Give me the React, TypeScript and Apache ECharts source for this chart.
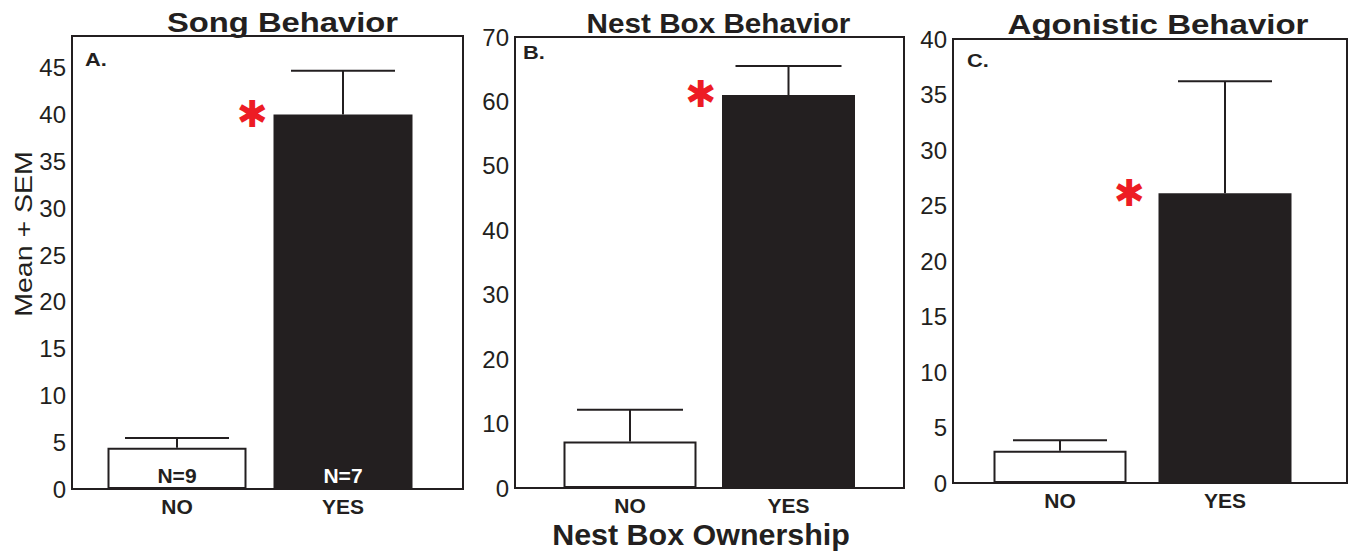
import React, { useEffect, useRef } from 'react';
import * as echarts from 'echarts';

// ---------- data ----------
const categories = ['NO', 'YES'];
const panelTitles = ['Song Behavior', 'Nest Box Behavior', 'Agonistic Behavior'];
const panelLetters = ['A.', 'B.', 'C.'];
const songMeans = [4.4, 40.0];
const songSem = [1.05, 4.7];
const nestBoxMeans = [7.2, 61.0];
const nestBoxSem = [4.95, 4.5];
const agonisticMeans = [2.9, 26.1];
const agonisticSem = [0.95, 10.1];
const significant = [false, true];
const sampleSizes = ['N=9', 'N=7'];
const yAxisMax = [48.4, 70, 40];
const yAxisInterval = [5, 10, 5];
const yAxisName = 'Mean + SEM';
const xAxisName = 'Nest Box Ownership';

const means = [songMeans, nestBoxMeans, agonisticMeans];
const sems = [songSem, nestBoxSem, agonisticSem];

// ---------- layout / style ----------
const DARK = '#231f20';
const RED = '#ed1c24';
const FONT = '"Liberation Sans", Arial, Helvetica, sans-serif';

const frames = [
  { left: 72, top: 36, width: 391, height: 453 },
  { left: 515, top: 37, width: 389, height: 451 },
  { left: 953, top: 39, width: 394, height: 444 },
];
const inner = [
  { left: 94, width: 332, barWidth: 139, cap: 52, star: -91 },
  { left: 550.75, width: 317, barWidth: 133, cap: 53, star: -88 },
  { left: 977.5, width: 330, barWidth: 133, cap: 47, star: -96 },
];
const titlePos = [
  { x: 282.5, y: 22, sx: 1.17 },
  { x: 718.5, y: 23, sx: 1.06 },
  { x: 1158, y: 24, sx: 1.18 },
];
const letterPos = [
  { x: 85, y: 59 },
  { x: 523, y: 52.5 },
  { x: 967, y: 60.5 },
];

function buildOption() {
  const grid: any[] = [];
  const xAxis: any[] = [];
  const yAxis: any[] = [];
  const series: any[] = [];
  const graphic: any[] = [];

  for (let p = 0; p < 3; p++) {
    const f = frames[p];
    const inn = inner[p];
    const fi = 2 * p;
    const ii = 2 * p + 1;
    grid.push({
      left: f.left, top: f.top, width: f.width, height: f.height,
      show: true, borderColor: DARK, borderWidth: 2, backgroundColor: 'transparent',
      containLabel: false, outerBoundsMode: 'none',
    });
    grid.push({
      left: inn.left, top: f.top, width: inn.width, height: f.height,
      containLabel: false, outerBoundsMode: 'none',
    });
    xAxis.push({ gridIndex: fi, type: 'value', show: false, min: 0, max: 1 });
    const itv = yAxisInterval[p];
    yAxis.push({
      gridIndex: fi, type: 'value', min: 0, max: yAxisMax[p], interval: itv,
      axisLine: { show: false }, axisTick: { show: false }, splitLine: { show: false },
      axisLabel: {
        fontSize: 24, color: DARK, fontFamily: FONT, margin: 6,
        formatter: (v: number) => (Math.abs(v / itv - Math.round(v / itv)) < 1e-6 ? String(v) : ''),
      },
    });
    xAxis.push({
      gridIndex: ii, type: 'category', data: categories,
      axisLine: { show: false }, axisTick: { show: false }, splitLine: { show: false },
      axisLabel: { fontSize: 21, fontWeight: 'bold', color: DARK, fontFamily: FONT, margin: 7 },
    });
    yAxis.push({ gridIndex: ii, type: 'value', min: 0, max: yAxisMax[p], show: false, splitLine: { show: false } });

    series.push({
      type: 'bar', xAxisIndex: ii, yAxisIndex: ii, barWidth: inn.barWidth,
      data: means[p].map((v, i) => ({
        value: v,
        itemStyle: i === 0
          ? { color: '#ffffff', borderColor: DARK, borderWidth: 2 }
          : { color: DARK, borderColor: DARK, borderWidth: 0 },
        label: {
          show: p === 0, position: 'insideBottom', distance: 3,
          formatter: sampleSizes[i], fontSize: 21, fontWeight: 'bold', fontFamily: FONT,
          color: i === 0 ? DARK : '#ffffff',
        },
      })),
    });

    const cap = inn.cap;
    const starOff = inn.star;
    series.push({
      type: 'custom', xAxisIndex: ii, yAxisIndex: ii, z: 5,
      encode: { x: 0, y: 1 },
      data: means[p].map((v, i) => [i, v, sems[p][i], significant[i] ? 1 : 0]),
      renderItem: (params: any, api: any) => {
        const idx = api.value(0);
        const m = api.value(1);
        const s = api.value(2);
        const sig = api.value(3);
        const top = api.coord([idx, m]);
        const hi = api.coord([idx, m + s]);
        const children: any[] = [
          { type: 'line', shape: { x1: top[0], y1: top[1], x2: hi[0], y2: hi[1] }, style: { stroke: DARK, lineWidth: 2 } },
          { type: 'line', shape: { x1: hi[0] - cap, y1: hi[1], x2: hi[0] + cap, y2: hi[1] }, style: { stroke: DARK, lineWidth: 2 } },
        ];
        if (sig) {
          children.push({
            type: 'text', x: top[0] + starOff, y: top[1],
            style: { text: '\u2731', fill: RED, fontSize: 37, fontFamily: '"DejaVu Sans", sans-serif', align: 'center', verticalAlign: 'middle' },
          });
        }
        return { type: 'group', children };
      },
    });

    graphic.push({
      type: 'text', x: titlePos[p].x, y: titlePos[p].y, scaleX: titlePos[p].sx,
      style: { text: panelTitles[p], fill: DARK, fontSize: 28, fontWeight: 'bold', fontFamily: FONT, align: 'center', verticalAlign: 'middle' },
    });
    graphic.push({
      type: 'text', x: letterPos[p].x, y: letterPos[p].y, scaleX: 1.15,
      style: { text: panelLetters[p], fill: DARK, fontSize: 19, fontWeight: 'bold', fontFamily: FONT, align: 'left', verticalAlign: 'middle' },
    });
  }

  graphic.push({
    type: 'text', x: 24, y: 234, rotation: Math.PI / 2, scaleX: 1.24,
    style: { text: yAxisName, fill: DARK, fontSize: 23, fontFamily: FONT, align: 'center', verticalAlign: 'middle' },
  });
  graphic.push({
    type: 'text', x: 701, y: 535, scaleX: 1.05,
    style: { text: xAxisName, fill: DARK, fontSize: 29, fontWeight: 'bold', fontFamily: FONT, align: 'center', verticalAlign: 'middle' },
  });

  return {
    animation: false,
    backgroundColor: '#ffffff',
    grid, xAxis, yAxis, series, graphic,
  };
}

export default function App() {
  const ref = useRef<HTMLDivElement>(null);
  useEffect(() => {
    if (!ref.current) return;
    const chart = echarts.init(ref.current, undefined, { renderer: 'svg' });
    chart.setOption(buildOption() as any);
    return () => chart.dispose();
  }, []);
  return (
    <div
      ref={ref}
      style={{ position: 'absolute', left: 0, top: 0, width: 1355, height: 553 }}
    />
  );
}
